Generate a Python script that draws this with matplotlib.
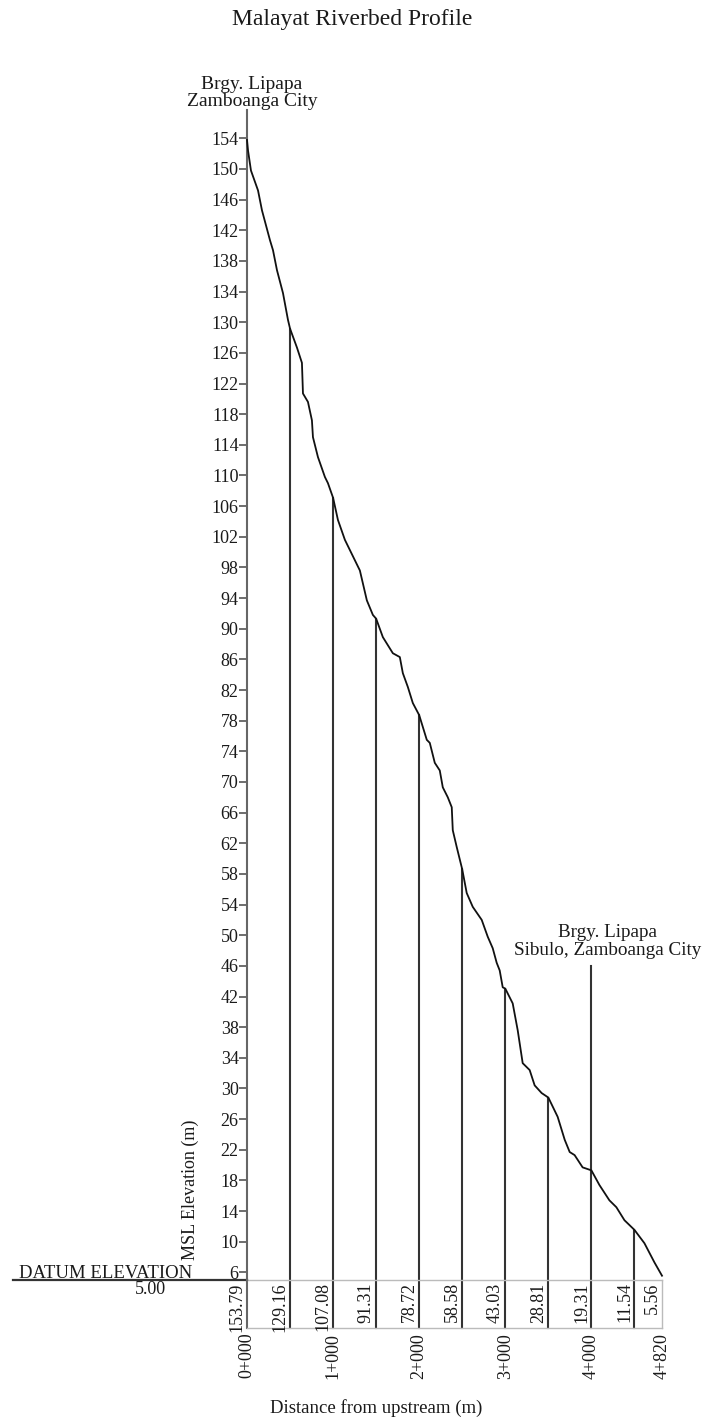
import numpy as np
import matplotlib.pyplot as plt

# Riverbed profile (distance from upstream in m, MSL elevation in m)
distance = [0, 12, 46, 128, 174, 267, 302, 348, 418, 476, 500, 580, 638, 650, 708,
            754, 766, 824, 905, 940, 1000, 1056, 1137, 1311, 1392, 1462, 1500, 1578,
            1694, 1775, 1810, 1868, 1926, 2000, 2088, 2123, 2181, 2239, 2274, 2332,
            2378, 2390, 2436, 2500, 2552, 2622, 2726, 2796, 2854, 2900, 2935, 2970,
            3000, 3086, 3144, 3202, 3283, 3341, 3422, 3500, 3608, 3690, 3748, 3805,
            3898, 4000, 4093, 4209, 4290, 4384, 4500, 4616, 4732, 4820]
elevation = [153.79, 152.4, 149.8, 147.2, 144.6, 140.7, 139.4, 136.8, 133.8, 130.3,
             129.16, 126.7, 124.7, 120.7, 119.6, 117.2, 115.0, 112.4, 109.8, 109.0,
             107.08, 104.2, 101.6, 97.6, 93.7, 91.8, 91.31, 88.9, 86.8, 86.3, 84.2,
             82.4, 80.3, 78.72, 75.5, 75.1, 72.5, 71.5, 69.3, 68.0, 66.7, 63.7, 61.5,
             58.58, 55.5, 53.7, 52.0, 49.8, 48.3, 46.4, 45.4, 43.2, 43.03, 41.1, 37.6,
             33.3, 32.4, 30.4, 29.4, 28.81, 26.3, 23.3, 21.7, 21.3, 19.7, 19.31, 17.4,
             15.4, 14.5, 12.8, 11.54, 9.8, 7.3, 5.56]

# Stations with elevations written in the table
station_dist = [0, 500, 1000, 1500, 2000, 2500, 3000, 3500, 4000, 4500, 4820]
station_elev = [153.79, 129.16, 107.08, 91.31, 78.72, 58.58, 43.03, 28.81, 19.31, 11.54, 5.56]
chainage_pos = [0, 1000, 2000, 3000, 4000, 4820]
chainage_lab = ['0+000', '1+000', '2+000', '3+000', '4+000', '4+820']
y_ticks = list(range(6, 155, 4))

datum = 5.0
table_bottom = -1.26
top_place = 'Brgy. Lipapa\nZamboanga City'
end_place = 'Brgy. Lipapa\nSibulo, Zamboanga City'

plt.rcParams['font.family'] = ['Liberation Serif', 'DejaVu Serif']
txt = '#1a1a1a'

fig = plt.figure(figsize=(7.03, 14.25), dpi=100)
ax = fig.add_axes([247 / 703, 145 / 1425, 415 / 703, 1170 / 1425])
ax.set_xlim(0, 4820)
ax.set_ylim(datum, 157.7)

for s in ['top', 'right', 'bottom']:
    ax.spines[s].set_visible(False)
ax.spines['left'].set_color('#666666')
ax.spines['left'].set_linewidth(1.5)

ax.set_yticks(y_ticks)
ax.set_yticklabels([str(v) for v in y_ticks], fontsize=13, color=txt)
ax.tick_params(axis='y', length=6, width=1.2, color='#555555', pad=0)
ax.set_xticks([])

# profile
ax.plot(distance, elevation, color='#111111', lw=1.3, clip_on=False, zorder=3)

# station verticals
for d, e in zip(station_dist, station_elev):
    if d == 0:
        continue
    top = e
    if d == 4000:
        top = 46.0
    if d == 4820:
        ax.plot([d, d], [table_bottom, datum], color='#bbbbbb', lw=1, clip_on=False)
        continue
    ax.plot([d, d], [table_bottom, top], color='#333333', lw=1.5, clip_on=False)
ax.plot([0, 0], [table_bottom, datum], color='#666666', lw=1.5, clip_on=False)

# table lines
ax.plot([0, 4820], [datum, datum], color='#bbbbbb', lw=1, clip_on=False)
ax.plot([0, 4820], [table_bottom, table_bottom], color='#bbbbbb', lw=1, clip_on=False)
ax.plot([-2714, 0], [datum, datum], color='#333333', lw=1.6, clip_on=False)

for d, e in zip(station_dist, station_elev):
    ax.text(d - 15, datum - 0.3, '%.2f' % e, rotation=90, ha='right', va='top',
            fontsize=13, color=txt, clip_on=False)

for d, lab in zip(chainage_pos, chainage_lab):
    ax.text(d, -1.9, lab, rotation=90, ha='center', va='top', fontsize=13,
            color=txt, clip_on=False)

ax.text(-1640, datum - 0.3, 'DATUM ELEVATION', ha='center', va='bottom', fontsize=13.5,
        color=txt, clip_on=False)
ax.text(-1125, datum - 0.1, '5.00', ha='center', va='top', fontsize=13,
        color=txt, clip_on=False)

ax.text(58, 159.9, top_place, ha='center', va='center', fontsize=14,
        linespacing=1.0, color=txt, clip_on=False)
ax.text(4188, 49.2, end_place, ha='center', va='center', fontsize=13.75,
        linespacing=1.1, color=txt, clip_on=False)

fig.text(190 / 703, 1 - 1190 / 1425, 'MSL Elevation (m)', rotation=90, ha='center',
         va='center', fontsize=13, color=txt)
fig.text(376 / 703, 1 - 1408 / 1425, 'Distance from upstream (m)', ha='center',
         va='center', fontsize=13.5, color=txt)
fig.text(352 / 703, 1 - 20 / 1425, 'Malayat Riverbed Profile', ha='center',
         va='center', fontsize=17, color=txt)

fig.savefig('out.png', dpi=100)
